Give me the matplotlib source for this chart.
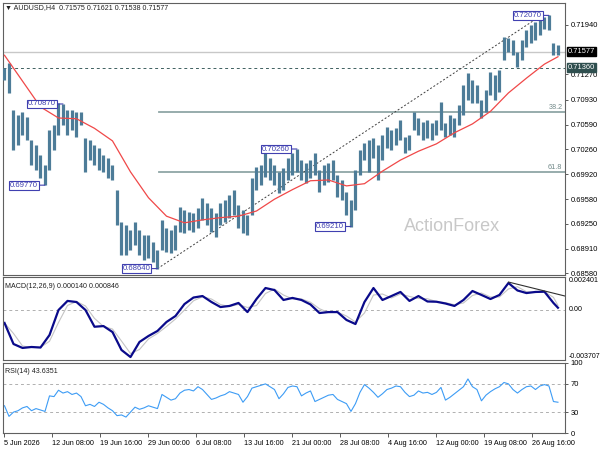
import numpy as np
import pandas as pd
import matplotlib
matplotlib.use("Agg")
import matplotlib.pyplot as plt
from matplotlib.transforms import blended_transform_factory

plt.rcParams['font.family'] = ['Liberation Sans', 'DejaVu Sans']

# AUDUSD H4, one sample every 3 bars (high / low)
bar_high = [0.7136, 0.7143, 0.7079, 0.7072, 0.7076, 0.7069, 0.7038, 0.7031, 0.7018, 0.7004,
            0.7052, 0.7059, 0.7088, 0.7087, 0.7079, 0.7079, 0.7076, 0.7076, 0.7041, 0.7038,
            0.7031, 0.7027, 0.7018, 0.7014, 0.7004, 0.6971, 0.6927, 0.6923, 0.6916, 0.6927,
            0.6916, 0.6910, 0.6910, 0.6900, 0.6889, 0.6930, 0.6919, 0.6916, 0.6923, 0.6947,
            0.6943, 0.6941, 0.6939, 0.6946, 0.6960, 0.6953, 0.6946, 0.6939, 0.6953, 0.6957,
            0.6964, 0.6971, 0.6950, 0.6943, 0.6937, 0.6987, 0.7002, 0.7004, 0.7025, 0.7014,
            0.7004, 0.6995, 0.7000, 0.7014, 0.7021, 0.7026, 0.7011, 0.7007, 0.7011, 0.7021,
            0.6998, 0.7004, 0.7007, 0.7011, 0.6991, 0.6984, 0.6968, 0.6957, 0.6998, 0.7025,
            0.7034, 0.7038, 0.7041, 0.7031, 0.7045, 0.7056, 0.7052, 0.7054, 0.7065, 0.7042,
            0.7045, 0.7076, 0.7068, 0.7063, 0.7065, 0.7061, 0.7065, 0.7090, 0.7061, 0.7072,
            0.7068, 0.7086, 0.7113, 0.7129, 0.7120, 0.7113, 0.7092, 0.7106, 0.7130, 0.7126,
            0.7133, 0.7178, 0.7176, 0.7174, 0.7157, 0.7174, 0.7187, 0.7194, 0.7198, 0.7201,
            0.7205, 0.7207, 0.7170, 0.7167]
bar_low = [0.7120, 0.7102, 0.7025, 0.7031, 0.7045, 0.7038, 0.7004, 0.6998, 0.6987, 0.6977,
           0.6998, 0.7025, 0.7045, 0.7059, 0.7045, 0.7052, 0.7042, 0.7059, 0.6995, 0.7011,
           0.7004, 0.6998, 0.6995, 0.6987, 0.6984, 0.6923, 0.6882, 0.6882, 0.6889, 0.6896,
           0.6882, 0.6876, 0.6878, 0.6873, 0.6864, 0.6889, 0.6886, 0.6885, 0.6889, 0.6914,
           0.6912, 0.6916, 0.6914, 0.6919, 0.6930, 0.6923, 0.6914, 0.6907, 0.6923, 0.6927,
           0.6933, 0.6937, 0.6919, 0.6912, 0.6910, 0.6937, 0.6971, 0.6977, 0.6988, 0.6984,
           0.6977, 0.6966, 0.6971, 0.6984, 0.6991, 0.6995, 0.6984, 0.6980, 0.6987, 0.6991,
           0.6968, 0.6977, 0.6981, 0.6984, 0.6961, 0.6957, 0.6937, 0.6921, 0.6943, 0.6991,
           0.7011, 0.6995, 0.7014, 0.6984, 0.7011, 0.7027, 0.7025, 0.7031, 0.7038, 0.7021,
           0.7025, 0.7052, 0.7045, 0.7038, 0.7041, 0.7038, 0.7045, 0.7052, 0.7042, 0.7045,
           0.7042, 0.7059, 0.7072, 0.7092, 0.7088, 0.7088, 0.7068, 0.7076, 0.7099, 0.7092,
           0.7103, 0.7147, 0.7157, 0.7153, 0.7137, 0.7147, 0.7164, 0.7170, 0.7174, 0.7180,
           0.7189, 0.7187, 0.7153, 0.7153]

# moving average, one value every 12 bars plus the last bar
ma_price = [0.7153, 0.7118, 0.7083, 0.7068, 0.7067, 0.7054, 0.7037, 0.6995, 0.6960, 0.6935,
            0.6926, 0.6930, 0.6933, 0.6935, 0.6942, 0.6958, 0.6971, 0.6983, 0.6984, 0.6976,
            0.6979, 0.6996, 0.7011, 0.7023, 0.7033, 0.7048, 0.7060, 0.7077, 0.7102, 0.7122,
            0.7141, 0.7151]

# MACD main line, one value every 6 bars plus the last bar
macd_line = [-0.00098, -0.00253, -0.00282, -0.00275, -0.00279, -0.00187, -0.00003, 0.00064,
             0.00056, -0.00003, -0.00126, -0.00121, -0.00165, -0.00297, -0.00349, -0.00238,
             -0.00194, -0.00157, -0.00091, -0.00047, 0.00041, 0.00089, 0.00100, 0.00056,
             0.00019, 0.00027, 0.00049, -0.00018, 0.00078, 0.00159, 0.00144, 0.00071,
             0.00086, 0.00071, 0.00038, -0.00025, -0.00018, -0.00018, -0.00076, -0.00106,
             0.00056, 0.00159, 0.00071, 0.00100, 0.00130, 0.00064, 0.00100, 0.00060,
             0.00058, 0.00045, 0.00027, 0.00071, 0.00137, 0.00108, 0.00078, 0.00108,
             0.00196, 0.00141, 0.00122, 0.00130, 0.00132, 0.00049, 0.00014]

# RSI(14), one value every 3 bars
rsi_line = [39, 24, 30, 32, 36, 38, 32, 35, 33, 31, 53, 52, 61, 57, 59, 55, 57, 52, 39, 41,
            38, 44, 41, 36, 32, 25, 26, 23, 30, 37, 34, 36, 39, 37, 35, 55, 51, 47, 49, 57,
            61, 62, 60, 66, 62, 55, 48, 50, 53, 55, 59, 57, 55, 44, 52, 64, 66, 68, 70, 66,
            62, 49, 56, 65, 67, 66, 53, 57, 60, 45, 48, 51, 54, 55, 48, 45, 42, 31, 42, 58,
            69, 64, 58, 51, 56, 62, 64, 67, 66, 58, 52, 54, 60, 57, 58, 55, 58, 65, 47, 51,
            56, 61, 66, 77, 66, 62, 46, 54, 59, 63, 66, 72, 70, 62, 57, 62, 66, 67, 62, 67,
            69, 67, 45, 44]

date_labels = ['5 Jun 2026', '12 Jun 08:00', '19 Jun 16:00', '29 Jun 00:00', '6 Jul 08:00',
               '13 Jul 16:00', '21 Jul 00:00', '28 Jul 08:00', '4 Aug 16:00', '12 Aug 00:00',
               '19 Aug 08:00', '26 Aug 16:00']
price_ticks = [0.71940, 0.71270, 0.70930, 0.70590, 0.70260, 0.69920, 0.69580, 0.69250,
               0.68910, 0.68580]

# marked swing points: (label, bar index)
swing_labels = [(0.70870, 39), (0.69770, 27), (0.68640, 102), (0.70260, 195),
                (0.69210, 231), (0.72070, 363)]

last_price = 0.71577
level_price = 0.71360
fib_low, fib_high = 0.68640, 0.72070

bar_x = np.arange(len(bar_high)) * 3
ma_x = list(range(0, 121 * 3, 12)) + [369]
macd_x = list(range(0, 123 * 3, 6)) + [369]
rsi_x = np.arange(len(rsi_line)) * 3
macd_signal = pd.Series(macd_line).rolling(2, min_periods=1).mean()

fig = plt.figure(figsize=(6, 4.5), dpi=100)
ax = fig.add_axes([3 / 600, 1 - 275 / 450, 562 / 600, 272 / 450])
ax_macd = fig.add_axes([3 / 600, 1 - 360 / 450, 562 / 600, 83 / 450])
ax_rsi = fig.add_axes([3 / 600, 1 - 433.3 / 450, 562 / 600, 70.6 / 450])

fs = 5.4
for a in (ax, ax_macd, ax_rsi):
    a.set_xlim(-1, 373.7)
    for s in a.spines.values():
        s.set_color('#606060')
        s.set_linewidth(0.8)
    a.tick_params(axis='y', left=False, labelleft=False, right=True, labelright=True,
                  length=2.5, width=0.6, labelsize=fs, pad=1.5, color='#404040')
    a.tick_params(axis='x', bottom=False, labelbottom=False)

# ---- main price panel
ax.set_ylim(0.68553, 0.72238)
ax.axhline(last_price, color='#c8c8c8', lw=1.0, zorder=1)
ax.axhline(level_price, color='#3f6060', lw=0.7, ls=(0, (3, 3)), zorder=1)
for pct in (38.2, 61.8):
    lvl = fib_high - pct / 100 * (fib_high - fib_low)
    ax.plot([102.7, 373.7], [lvl, lvl], color='#8fa6a6', lw=1.3, zorder=1)
    ax.text(372, lvl + 0.00012, str(pct), ha='right', va='bottom', fontsize=5.2, color='#708888')
ax.plot([102, 358], [fib_low, fib_high], color='#404040', lw=0.7, ls=(0, (2, 2)), zorder=2)
ax.vlines(bar_x, bar_low, bar_high, color='#4d7c98', lw=2.3, zorder=3)
ax.plot(ma_x, ma_price, color='#f04848', lw=0.9, zorder=4)
ax.text(0.799, 0.18, 'ActionForex', transform=ax.transAxes, ha='center', va='center',
        fontsize=13, color='#c8c8c8', zorder=0)
ax.text(0.004, 0.982, '\u25bc AUDUSD,H4  0.71575 0.71621 0.71538 0.71577', transform=ax.transAxes,
        ha='left', va='center', fontsize=5.1, color='#202020')

for val, bi in swing_labels:
    ax.annotate('%.5f' % val, xy=(bi, val), xytext=(-5, 0), textcoords='offset points',
                ha='right', va='center', fontsize=5.6, color='#4040b0',
                bbox=dict(boxstyle='square,pad=0.12', fc='white', ec='#4040b0', lw=0.8),
                arrowprops=dict(arrowstyle='-', color='#4040b0', lw=0.8, shrinkA=0, shrinkB=0),
                zorder=6)

ax.set_yticks(price_ticks)
ax.set_yticklabels(['%.5f' % v for v in price_ticks])
trans = blended_transform_factory(ax.transAxes, ax.transData)
ax.text(1.005, last_price, '%.5f' % last_price, transform=trans, ha='left', va='center',
        fontsize=fs, color='white', bbox=dict(boxstyle='square,pad=0.15', fc='black', ec='black'))
ax.text(1.005, level_price, '%.5f' % level_price, transform=trans, ha='left', va='center',
        fontsize=fs, color='white', bbox=dict(boxstyle='square,pad=0.15', fc='#2f4f4f', ec='#2f4f4f'))

# ---- MACD panel
ax_macd.set_ylim(-0.003707, 0.002401)
ax_macd.axhline(0, color='#b0b0b0', lw=0.7, ls=(0, (3, 3)))
ax_macd.plot(macd_x, macd_signal, color='#c4c4c4', lw=0.8)
ax_macd.plot(macd_x, macd_line, color='#0a0a8a', lw=1.6)
ax_macd.plot([336, 373.7], [0.00203, 0.00100], color='#303030', lw=0.8)
ax_macd.set_yticks([])
mtrans = blended_transform_factory(ax_macd.transAxes, ax_macd.transData)
ax_macd.text(1.007, 0.002401, '0.002401', transform=mtrans, ha='left', va='top', fontsize=5.1)
ax_macd.text(1.007, 0.0, '0.00', transform=mtrans, ha='left', va='center', fontsize=5.1)
ax_macd.text(1.007, -0.003707, '-0.003707', transform=mtrans, ha='left', va='bottom', fontsize=5.0)
ax_macd.text(0.004, 0.93, 'MACD(12,26,9) 0.000140 0.000846', transform=ax_macd.transAxes,
             ha='left', va='top', fontsize=5.1, color='#202020')

# ---- RSI panel
ax_rsi.set_ylim(0, 100)
for lv in (70, 30):
    ax_rsi.axhline(lv, color='#b0b0b0', lw=0.7, ls=(0, (3, 3)))
ax_rsi.plot(rsi_x, rsi_line, color='#3d9cf5', lw=0.8)
ax_rsi.set_yticks([100, 70, 30, 0])
ax_rsi.set_yticklabels(['100', '70', '30', '0'])
ax_rsi.text(0.004, 0.93, 'RSI(14) 43.6351', transform=ax_rsi.transAxes,
            ha='left', va='top', fontsize=5.1, color='#202020')
ax_rsi.set_xticks(np.arange(len(date_labels)) * 32)
ax_rsi.set_xticklabels(date_labels)
ax_rsi.tick_params(axis='x', bottom=True, labelbottom=True, length=3, width=0.6,
                   labelsize=5.2, pad=1.5, color='#404040')
for lbl in ax_rsi.get_xticklabels():
    lbl.set_horizontalalignment('left')

fig.savefig('out.png', dpi=100, facecolor='white')
